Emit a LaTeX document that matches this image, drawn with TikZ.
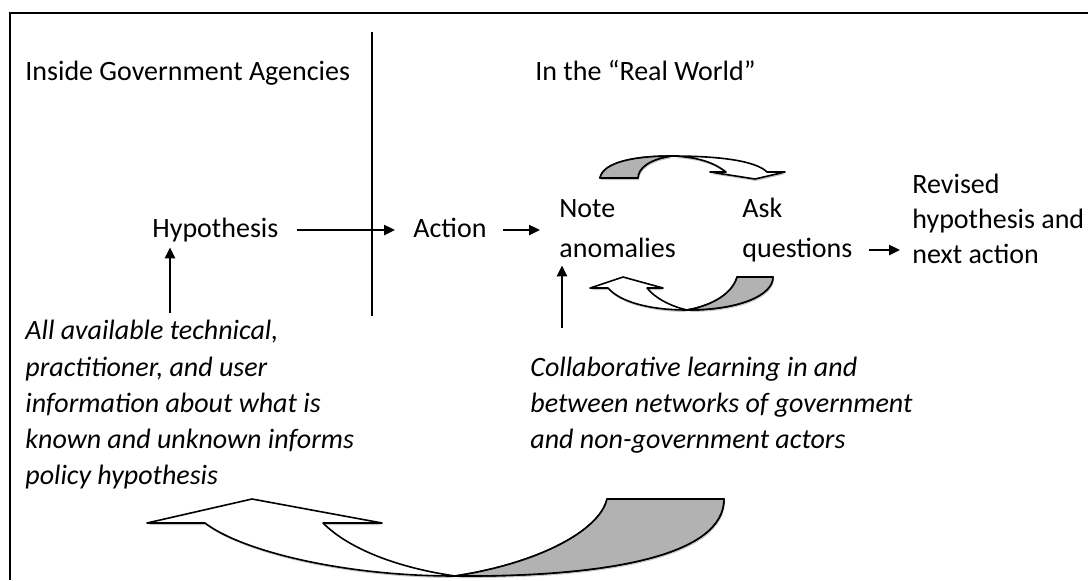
\documentclass[tikz,border=0pt]{standalone}
\usepackage{fontspec}
\setmainfont{Carlito}
\usetikzlibrary{arrows.meta,shadows}

\tikzset{
  txt/.style={inner sep=0pt, anchor=base west, text height=10pt, text depth=3pt, font=\fontsize{14}{17}\selectfont},
  itxt/.style={txt, font=\fontsize{14}{17}\selectfont\itshape},
  arr/.style={line width=1.2pt, -{Triangle[length=5.5pt,width=5pt]}},
  band/.style={line width=0.8pt, line join=round, fill=white, drop shadow={opacity=0.45, shadow xshift=0.5pt, shadow yshift=-1pt}},
  bandgray/.style={line width=0.8pt, line join=round, fill=black!30}
}

\begin{document}
\begin{tikzpicture}[x=0.5pt, y=-0.5pt]
  \useasboundingbox (0,0) rectangle (1088,580);
    \draw[line width=1.3pt](10,580)--(10,13)--(1088,13); % frame
    \draw[line width=1pt](372,32)--(372,316); % divider
    \node[txt] (inside) at (25,80) {Inside Government Agencies};
    \node[txt] (real) at (535,80) {In the “Real World”};
    \node[txt] (hyp) at (152,237) {Hypothesis};
    \node[txt] (act) at (413,237) {Action};
    \node[txt] (note1) at (559,217) {Note};
    \node[txt] (note2) at (559,257) {anomalies};
    \node[txt] (ask1) at (742,217) {Ask};
    \node[txt] (ask2) at (742,257) {questions};
    \node[txt] (rev1) at (912,193) {Revised};
    \node[txt] (rev2) at (912,228) {hypothesis and};
    \node[txt] (rev3) at (912,263) {next action};
    \node[itxt] (info1) at (25,339) {All available technical,};
    \node[itxt] (info2) at (25,376) {practitioner, and user};
    \node[itxt] (info3) at (25,412) {information about what is};
    \node[itxt] (info4) at (25,448) {known and unknown informs};
    \node[itxt] (info5) at (25,484) {policy hypothesis};
    \node[itxt] (collab1) at (530,376) {Collaborative learning in and};
    \node[itxt] (collab2) at (530,412) {between networks of government};
    \node[itxt] (collab3) at (530,448) {and non-government actors};
    \coordinate (hx) at ([xshift=9pt]hyp.south west);
    \coordinate (nx) at ([xshift=1.5pt]note2.south west);
    \draw[arr, shorten <=9pt, shorten >=9pt] (hyp) -- (hyp -| act.west);
    \draw[arr, shorten <=8pt, shorten >=9.5pt] (act) -- (act -| note2.west);
    \draw[arr, shorten <=8pt, shorten >=6pt] (ask2) -- (ask2 -| rev2.west);
    \draw[arr, shorten <=3pt, shorten >=2pt] (hx |- info1.north) -- (hx);
    \draw[arr, shorten <=14pt, shorten >=1pt] (nx |- collab1.north) -- (nx);
    % loop above
    \draw[band](600,178) .. controls (603,162) and (635,156) .. (672,156) .. controls (715,156) and (755,160) .. (767,172) -- (785,172) -- (755,179) -- (710,172) -- (726,172) .. controls (712,161) and (695,157) .. (672,156) .. controls (650,159) and (638,168) .. (638,178) -- cycle;
    \draw[bandgray](600,178) .. controls (603,162) and (635,156) .. (672,156) .. controls (650,159) and (638,168) .. (638,178) -- cycle;
    % loop below
    \draw[band](608,288) .. controls (620,302) and (650,310) .. (687,310) .. controls (740,310) and (773,295) .. (773,277) -- (737,277) .. controls (733,292) and (715,305) .. (687,310) .. controls (670,306) and (655,298) .. (647,288) -- (663,288) -- (623,277) -- (590,288) -- cycle;
    \draw[bandgray](687,310) .. controls (740,310) and (773,295) .. (773,277) -- (737,277) .. controls (733,292) and (715,305) .. cycle;
    % big return arrow
    \draw[band](205,523) .. controls (240,550) and (340,576) .. (455,576) .. controls (610,577) and (724,555) .. (724,499) -- (607,499) .. controls (600,530) and (540,563) .. (455,576) .. controls (400,568) and (350,550) .. (323,523) -- (382,523) -- (252,499) -- (147,523) -- cycle;
    \draw[bandgray](455,576) .. controls (610,577) and (724,555) .. (724,499) -- (607,499) .. controls (600,530) and (540,563) .. cycle;
  \end{tikzpicture}
\end{document}
